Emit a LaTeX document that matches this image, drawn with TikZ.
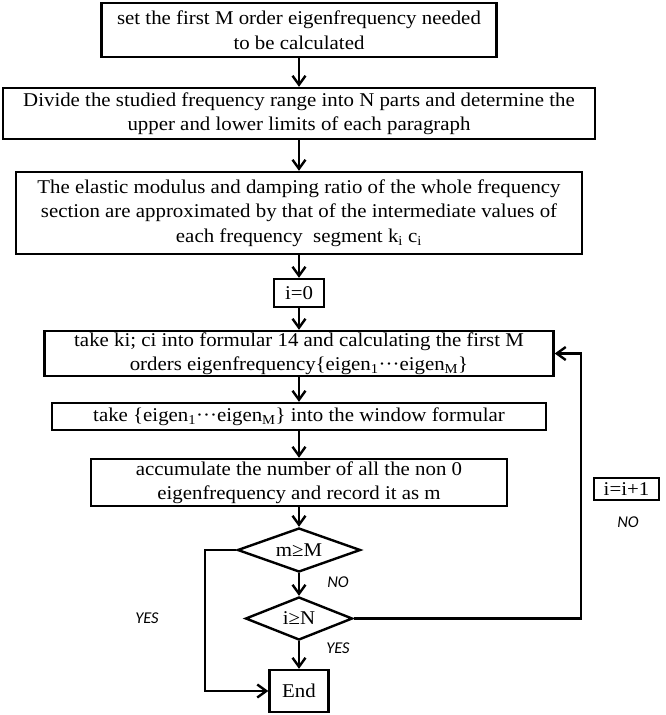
\documentclass[tikz,border=0pt]{standalone}
\usepackage{fontspec}
\setmainfont{Liberation Serif}[FakeStretch=1.07]
\newfontfamily\answerfont{Carlito}
\usetikzlibrary{shapes.geometric,arrows.meta}

\tikzset{every picture/.style={line width=2.4pt}}
\tikzset{
  process/.style={draw, align=center, inner sep=0pt, font=\fontsize{19.5}{24.5}\selectfont},
  decision/.style={draw, diamond, aspect=2.8, inner sep=0pt, font=\fontsize{19.5}{24.5}\selectfont},
  flow/.style={-{Straight Barb[length=9pt,width=13pt]}},
  answer/.style={font=\answerfont\itshape\fontsize{16.5}{20}\selectfont}
}

\begin{document}
\begin{tikzpicture}[x=1pt,y=1pt,yscale=-1,xscale=1]
\useasboundingbox (0,0) rectangle (666,715);

%Flowchart: Process
\node[process, minimum width=395pt, minimum height=54pt] (setM) at (299,30) {set the first M order eigenfrequency needed\\to be calculated};
%Flowchart: Process
\node[process, minimum width=592pt, minimum height=51pt] (divide) at (299,113.5) {Divide the studied frequency range into N parts and determine the\\upper and lower limits of each paragraph};
%Flowchart: Process
\node[process, minimum width=566pt, minimum height=82pt] (approx) at (299,213) {The elastic modulus and damping ratio of the whole frequency\\section are approximated by that of the intermediate values of\\each frequency\ \ segment k\textsubscript{i} c\textsubscript{i}};
%Flowchart: Process
\node[process, minimum width=50pt, minimum height=28pt] (init) at (299,293) {i=0};
%Flowchart: Process
\node[process, minimum width=509pt, minimum height=45pt] (calc) at (299,353.5) {take ki; ci into formular 14 and calculating the first M\\orders eigenfrequency\{eigen\textsubscript{1}···eigen\textsubscript{M}\}};
%Flowchart: Process
\node[process, minimum width=494pt, minimum height=27pt] (window) at (299,416.5) {take \{eigen\textsubscript{1}···eigen\textsubscript{M}\} into the window formular};
%Flowchart: Process
\node[process, minimum width=416pt, minimum height=47pt] (count) at (299,482.5) {accumulate the number of all the non 0\\eigenfrequency and record it as m};
%Flowchart: Decision
\node[decision, minimum width=123pt, minimum height=44pt] (mM) at (299,550) {m≥M};
%Flowchart: Decision
\node[decision, minimum width=107pt, minimum height=43pt] (iN) at (299,618.5) {i≥N};
%Flowchart: Process
\node[process, minimum width=59pt, minimum height=42pt] (end) at (299,691) {End};
%Flowchart: Process
\node[process, minimum width=65pt, minimum height=22pt] (inc) at (626.5,489) {i=i+1};

%Coordinates of the side lines
\coordinate (loopX) at (581,0);
\coordinate (yesX) at (205,0);

%Connectors
\draw[flow] (setM) -- (divide);
\draw[flow] (divide) -- (approx);
\draw[flow] (approx) -- (init);
\draw[flow] (init) -- (calc);
\draw[flow] (calc) -- (window);
\draw[flow] (window) -- (count);
\draw[flow] (count) -- (mM);
\draw[flow] (mM) -- (iN);
\draw[flow] (iN) -- (end);
\draw[flow] (iN.east) -- (iN.east -| loopX) |- (calc.east);
\draw[flow] (mM.west) -- (mM.west -| yesX) |- (end.west);

% Text Node
\node[answer] (noM) at (338,582) {NO};
% Text Node
\node[answer] (yesN) at (338,648) {YES};
% Text Node
\node[answer] (yesM) at (147,618) {YES};
% Text Node
\node[answer] (noN) at (628,522) {NO};

\end{tikzpicture}
\end{document}
